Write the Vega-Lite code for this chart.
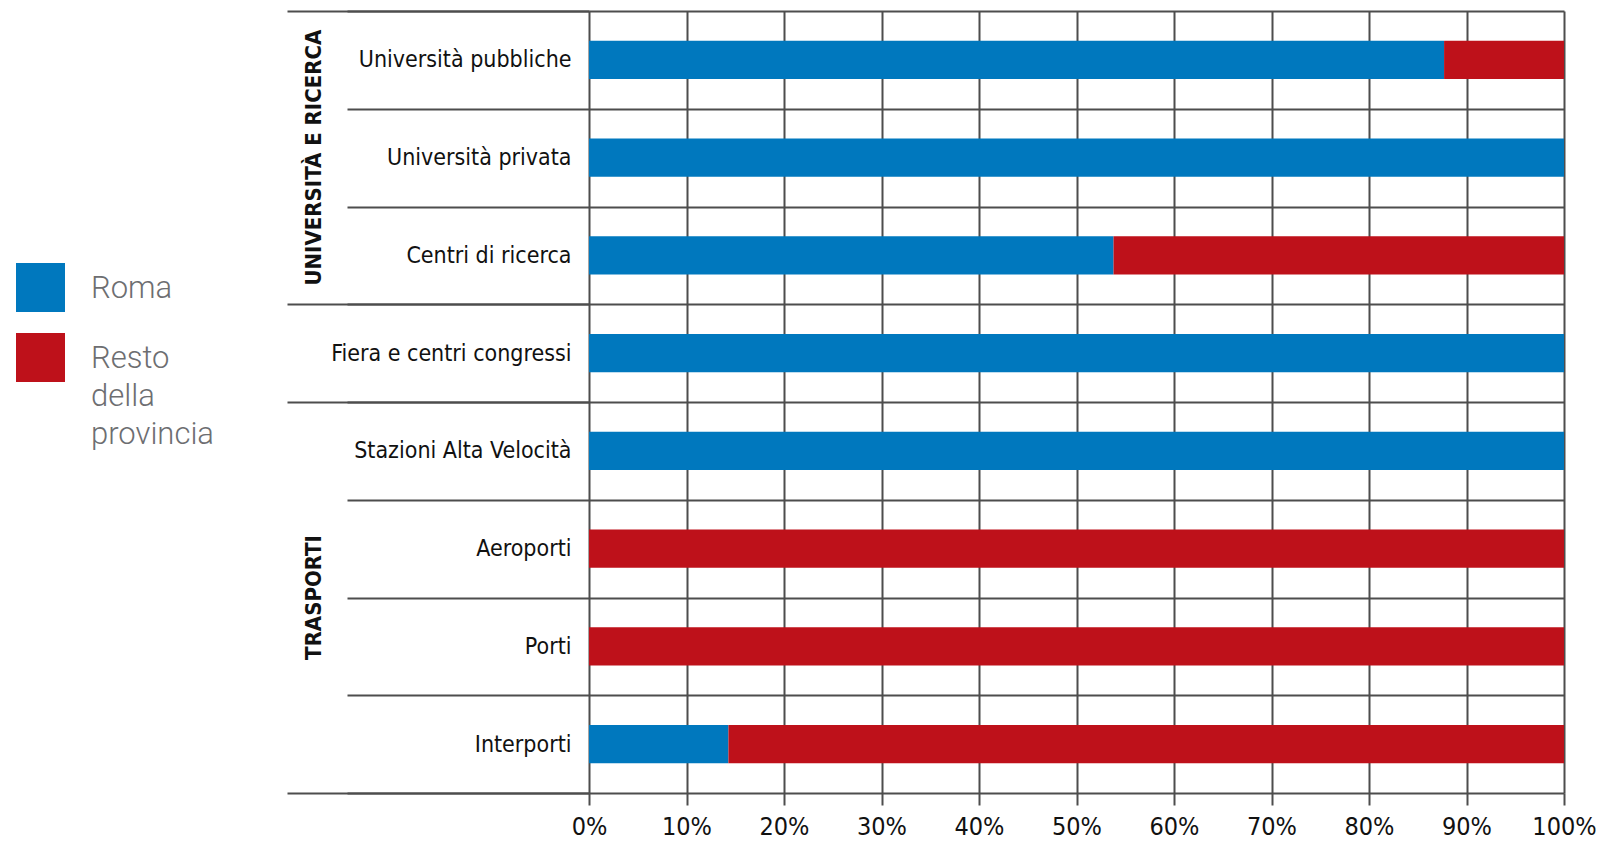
{
  "$schema": "https://vega.github.io/schema/vega-lite/v6.json",
  "width": 975,
  "height": 782,
  "autosize": {"type": "none"},
  "padding": {"left": 589, "top": 11, "right": 41, "bottom": 48},
  "background": "white",
  "datasets": {
    "shares": [
      {"row": "Università pubbliche", "area": "Roma", "pct": 87.7},
      {"row": "Università pubbliche", "area": "Resto della provincia", "pct": 12.3},
      {"row": "Università privata", "area": "Roma", "pct": 100},
      {"row": "Università privata", "area": "Resto della provincia", "pct": 0},
      {"row": "Centri di ricerca", "area": "Roma", "pct": 53.8},
      {"row": "Centri di ricerca", "area": "Resto della provincia", "pct": 46.2},
      {"row": "Fiera e centri congressi", "area": "Roma", "pct": 100},
      {"row": "Fiera e centri congressi", "area": "Resto della provincia", "pct": 0},
      {"row": "Stazioni Alta Velocità", "area": "Roma", "pct": 100},
      {"row": "Stazioni Alta Velocità", "area": "Resto della provincia", "pct": 0},
      {"row": "Aeroporti", "area": "Roma", "pct": 0},
      {"row": "Aeroporti", "area": "Resto della provincia", "pct": 100},
      {"row": "Porti", "area": "Roma", "pct": 0},
      {"row": "Porti", "area": "Resto della provincia", "pct": 100},
      {"row": "Interporti", "area": "Roma", "pct": 14.3},
      {"row": "Interporti", "area": "Resto della provincia", "pct": 85.7}
    ],
    "groups": [
      {"group": "UNIVERSITÀ E RICERCA", "row": "Università privata"},
      {"group": "TRASPORTI", "row": "Aeroporti"}
    ]
  },
  "layer": [
    {
      "data": {"name": "shares"},
      "mark": {"type": "bar", "height": {"band": 0.39}},
      "encoding": {
        "y": {
          "field": "row",
          "type": "nominal",
          "sort": null,
          "scale": {"domain": ["Università pubbliche", "Università privata", "Centri di ricerca", "Fiera e centri congressi", "Stazioni Alta Velocità", "Aeroporti", "Porti", "Interporti"], "padding": 0},
          "axis": {
            "title": null,
            "orient": "left",
            "domain": false,
            "tickBand": "extent",
            "ticks": true,
            "tickSize": 242,
            "tickColor": "#4d4d4d",
            "tickWidth": 2,
            "grid": true,
            "gridColor": "#4d4d4d",
            "gridWidth": 2,
            "gridOpacity": 1,
            "labelPadding": -224,
            "labelLimit": 0,
            "labelFont": "DejaVu Sans Condensed, Roboto, sans-serif",
            "labelFontSize": 23,
            "labelColor": "#111111",
            "labelAlign": "right",
            "labelBaseline": "middle"
          }
        },
        "x": {
          "field": "pct",
          "type": "quantitative",
          "stack": "zero",
          "scale": {"domain": [0, 100], "nice": false},
          "axis": {
            "title": null,
            "orient": "bottom",
            "values": [0, 10, 20, 30, 40, 50, 60, 70, 80, 90, 100],
            "labelExpr": "datum.value + '%'",
            "domain": false,
            "grid": true,
            "gridColor": "#4d4d4d",
            "gridWidth": 2,
            "gridOpacity": 1,
            "ticks": true,
            "tickSize": 12,
            "tickColor": "#4d4d4d",
            "tickWidth": 2,
            "labelPadding": 29,
            "labelFont": "DejaVu Sans Condensed, Roboto, sans-serif",
            "labelFontSize": 25,
            "labelColor": "#111111",
            "labelFlush": false,
            "labelBaseline": "alphabetic"
          }
        },
        "color": {
          "field": "area",
          "type": "nominal",
          "scale": {"domain": ["Roma", "Resto della provincia"], "range": ["#0078be", "#be111a"]},
          "legend": {
            "title": null,
            "orient": "none",
            "legendX": -573,
            "legendY": 252,
            "padding": 0,
            "symbolType": "square",
            "symbolSize": 2401,
            "symbolStrokeWidth": 0,
            "symbolOpacity": 1,
            "rowPadding": 21,
            "labelOffset": 26,
            "labelFont": "Roboto",
            "labelFontWeight": 300,
            "labelFontSize": 31,
            "labelColor": "#6d6e71",
            "labelBaseline": "alphabetic",
            "labelLimit": 0,
            "labelExpr": "split(datum.label, ' ')",
            "encoding": {"labels": {"dy": {"value": 10}, "lineHeight": {"value": 38}}}
          }
        },
        "order": {"field": "area", "sort": "descending"}
      }
    },
    {
      "data": {"name": "groups"},
      "transform": [{"filter": "datum.group == 'UNIVERSITÀ E RICERCA'"}],
      "mark": {"type": "text", "angle": 270, "align": "center", "baseline": "middle", "dy": -275, "font": "DejaVu Sans Condensed, Roboto, sans-serif", "fontWeight": "bold", "fontSize": 22, "color": "#111111"},
      "encoding": {
        "text": {"field": "group"},
        "x": {"datum": 0},
        "y": {
          "field": "row",
          "type": "nominal",
          "sort": null,
          "bandPosition": 0.5,
          "scale": {"domain": ["Università pubbliche", "Università privata", "Centri di ricerca", "Fiera e centri congressi", "Stazioni Alta Velocità", "Aeroporti", "Porti", "Interporti"], "padding": 0},
          "axis": {
            "title": null,
            "orient": "left",
            "domain": false,
            "labels": false,
            "grid": false,
            "bandPosition": 0,
            "values": ["Università pubbliche", "Fiera e centri congressi", "Stazioni Alta Velocità"],
            "tickSize": 302,
            "tickColor": "#4d4d4d",
            "tickWidth": 2
          }
        }
      }
    },
    {
      "data": {"name": "groups"},
      "transform": [{"filter": "datum.group == 'TRASPORTI'"}],
      "mark": {"type": "text", "angle": 270, "align": "center", "baseline": "middle", "dy": -275, "font": "DejaVu Sans Condensed, Roboto, sans-serif", "fontWeight": "bold", "fontSize": 22, "color": "#111111"},
      "encoding": {
        "text": {"field": "group"},
        "x": {"datum": 0},
        "y": {
          "field": "row",
          "type": "nominal",
          "sort": null,
          "bandPosition": 1,
          "scale": {"domain": ["Università pubbliche", "Università privata", "Centri di ricerca", "Fiera e centri congressi", "Stazioni Alta Velocità", "Aeroporti", "Porti", "Interporti"], "padding": 0},
          "axis": {
            "title": null,
            "orient": "left",
            "domain": false,
            "labels": false,
            "grid": false,
            "bandPosition": 1,
            "values": ["Interporti"],
            "tickSize": 302,
            "tickColor": "#4d4d4d",
            "tickWidth": 2
          }
        }
      }
    }
  ],
  "resolve": {"scale": {"y": "shared"}, "axis": {"y": "independent"}},
  "config": {
    "view": {"stroke": null},
    "style": {"guide-label": {"lineHeight": 38}}
  }
}
